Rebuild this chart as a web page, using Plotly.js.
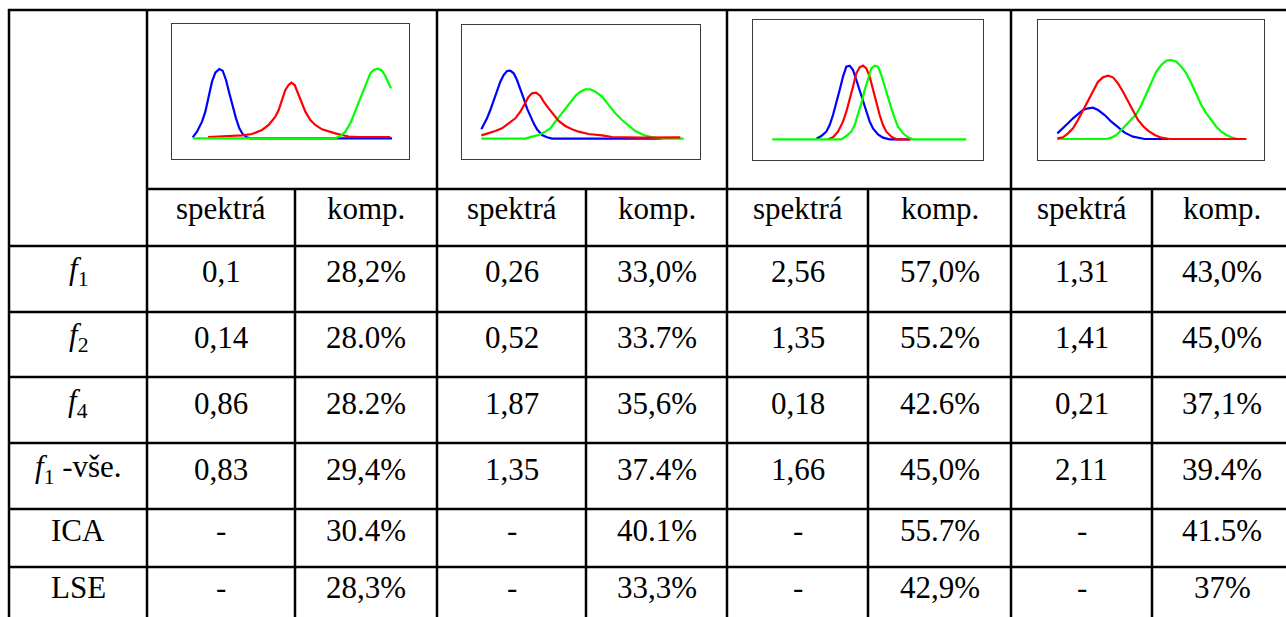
<!DOCTYPE html>
<html>
<head>
<meta charset="utf-8">
<script src="https://cdn.plot.ly/plotly-3.0.1.min.js"></script>
<style>
html,body{margin:0;padding:0;background:#fff;}
#chart{width:1286px;height:617px;}
</style>
</head>
<body>
<div id="chart"></div>
<script>
// ---------- table text ----------
const rowLabels = ['<i>f</i><sub>1</sub>', '<i>f</i><sub>2</sub>', '<i>f</i><sub>4</sub>', '<i>f</i><sub>1</sub> -vše.', 'ICA', 'LSE'];
const subHeaders = ['spektrá', 'komp.'];
const set1Spektra = ['0,1', '0,14', '0,86', '0,83', '-', '-'];
const set1Komp = ['28,2%', '28.0%', '28.2%', '29,4%', '30.4%', '28,3%'];
const set2Spektra = ['0,26', '0,52', '1,87', '1,35', '-', '-'];
const set2Komp = ['33,0%', '33.7%', '35,6%', '37.4%', '40.1%', '33,3%'];
const set3Spektra = ['2,56', '1,35', '0,18', '1,66', '-', '-'];
const set3Komp = ['57,0%', '55.2%', '42.6%', '45,0%', '55.7%', '42,9%'];
const set4Spektra = ['1,31', '1,41', '0,21', '2,11', '-', '-'];
const set4Komp = ['43,0%', '45,0%', '37,1%', '39.4%', '41.5%', '37%'];

// ---------- mini spectra (channel, intensity) ----------
const s1BlueX = [62,75,90,100,110,120,130,142,152,162,172,182,192,202,212,225,235,660];
const s1BlueY = [3,20,50,80,125,170,197,208,203,175,135,95,60,30,13,3,0,0];
const s1RedX = [108,210,240,270,290,310,320,330,340,350,358,368,378,390,400,415,430,450,470,490,510,530,560,655];
const s1RedY = [4,9,13,25,40,65,85,115,145,160,167,160,135,100,80,55,40,27,20,15,10,5,4,4];
const s1GreenX = [62,490,505,520,535,545,555,565,575,585,595,605,618,630,640,650,657];
const s1GreenY = [0,0,7,20,45,70,95,120,150,175,195,205,209,203,187,165,150];

const s2BlueX = [58,65,75,85,95,105,115,125,135,145,155,165,175,185,195,205,215,225,240,255,270,600];
const s2BlueY = [28,41,61,86,116,146,171,191,203,204,196,176,151,121,91,66,46,28,11,4,0,0];
const s2RedX = [58,80,100,120,140,160,175,190,200,210,222,235,245,260,275,290,310,330,350,380,420,450,540,655];
const s2RedY = [10,16,23,31,46,61,81,106,126,136,138,128,111,91,71,53,38,28,21,14,10,5,3,4];
const s2GreenX = [58,190,210,230,250,265,280,295,310,325,340,355,370,385,400,420,440,460,480,500,520,545,570,600,665];
const s2GreenY = [0,0,6,11,21,31,51,71,91,111,128,141,148,148,141,126,101,76,56,38,23,11,4,0,0];

const s3BlueX = [190,205,220,230,240,250,260,270,280,290,300,310,320,330,340,350,360,375,390,410,470];
const s3BlueY = [2,10,23,43,73,108,148,188,218,221,208,178,148,118,83,53,33,15,5,0,0];
const s3RedX = [225,240,255,270,280,290,300,310,320,330,340,350,360,370,380,390,400,415,430,475];
const s3RedY = [0,6,23,53,83,118,158,198,216,221,213,188,148,108,73,43,23,8,0,0];
const s3GreenX = [58,265,280,295,305,315,325,335,345,355,365,375,385,395,405,415,425,435,450,465,480,640];
const s3GreenY = [0,0,10,23,43,73,108,148,183,213,221,218,193,158,128,93,63,38,18,6,0,0];

const s4BlueX = [58,75,90,105,120,135,150,165,180,200,220,240,260,285,320,390];
const s4BlueY = [17,32,47,62,75,87,92,94,87,72,52,35,19,7,0,0];
const s4RedX = [58,75,90,105,120,135,150,165,180,195,210,225,240,255,270,285,300,315,330,350,370,395,625];
const s4RedY = [2,5,17,32,57,87,117,147,172,185,190,185,167,142,112,82,57,39,25,12,4,0,0];
const s4GreenX = [58,205,220,235,250,265,280,295,310,325,340,355,370,385,400,415,430,445,460,475,490,505,520,535,550,565,580,600,625];
const s4GreenY = [0,0,4,12,27,42,57,75,102,137,172,202,222,235,237,232,217,197,167,132,102,77,57,37,22,12,5,0,0];

// ---------- layout geometry (pixels) ----------
const W = 1286, H = 617;
const colX = [9, 147, 295, 437, 586, 727, 868, 1011, 1152, 1292];
const rowY = [10, 189, 246, 312, 377, 443, 509, 567, 640];
const textRowY = [271, 337, 403, 469, 530, 587];
const headerTextY = [208];
const boxes = [
  {x0:172, x1:409, y0:24, y1:159, xr:[0,711], yr:[-62,343]},
  {x0:462, x1:700, y0:25, y1:159, xr:[0,714], yr:[-61,341]},
  {x0:753, x1:983, y0:20, y1:160, xr:[0,690], yr:[-62,358]},
  {x0:1038, x1:1264, y0:20, y1:160, xr:[0,678], yr:[-63,357]}
];

const BLUE = '#0000ff', RED = '#ff0000', GREEN = '#00ff00';
const spectra = [
  [[s1BlueX,s1BlueY,BLUE],[s1RedX,s1RedY,RED],[s1GreenX,s1GreenY,GREEN]],
  [[s2BlueX,s2BlueY,BLUE],[s2GreenX,s2GreenY,GREEN],[s2RedX,s2RedY,RED]],
  [[s3BlueX,s3BlueY,BLUE],[s3RedX,s3RedY,RED],[s3GreenX,s3GreenY,GREEN]],
  [[s4BlueX,s4BlueY,BLUE],[s4GreenX,s4GreenY,GREEN],[s4RedX,s4RedY,RED]]
];

const traces = [];
const layout = {
  width: W, height: H,
  margin: {l:0, r:0, t:0, b:0},
  paper_bgcolor: '#ffffff', plot_bgcolor: 'rgba(0,0,0,0)',
  showlegend: false,
  font: {family: 'Liberation Serif', size: 31, color: '#000'},
  xaxis: {range:[0, W], domain:[0,1], visible:false, fixedrange:true},
  yaxis: {range:[H, 0], domain:[0,1], visible:false, fixedrange:true},
  shapes: [], annotations: []
};

traces.push({x:[0, W], y:[0, H], mode:'markers', marker:{opacity:0}, hoverinfo:'skip', xaxis:'x', yaxis:'y'});

boxes.forEach((b, i) => {
  const n = i + 2;
  layout['xaxis' + n] = {
    domain: [b.x0 / W, b.x1 / W], anchor: 'y' + n,
    range: b.xr, showgrid:false, zeroline:false, showticklabels:false, ticks:'',
    showline:true, mirror:true, linecolor:'#3a3a3a', linewidth:1.3, fixedrange:true
  };
  layout['yaxis' + n] = {
    domain: [1 - b.y1 / H, 1 - b.y0 / H], anchor: 'x' + n,
    range: b.yr, showgrid:false, zeroline:false, showticklabels:false, ticks:'',
    showline:true, mirror:true, linecolor:'#3a3a3a', linewidth:1.3, fixedrange:true
  };
  spectra[i].forEach(s => {
    traces.push({x:s[0], y:s[1], mode:'lines', line:{color:s[2], width:2.2, shape:'linear'},
      hoverinfo:'skip', xaxis:'x' + n, yaxis:'y' + n});
  });
});

// grid lines
const LW = 2.5;
function hline(y, x0, x1){ layout.shapes.push({type:'line', xref:'x', yref:'y', x0:x0, x1:x1, y0:y, y1:y, line:{color:'#000', width:LW}}); }
function vline(x, y0, y1){ layout.shapes.push({type:'line', xref:'x', yref:'y', x0:x, x1:x, y0:y0, y1:y1, line:{color:'#000', width:LW}}); }
hline(rowY[0], colX[0] - 1, W + 5);
hline(rowY[1], colX[1], W + 5);
for (let r = 2; r <= 7; r++) hline(rowY[r], colX[0] - 1, W + 5);
[0, 1, 3, 5, 7].forEach(c => vline(colX[c], rowY[0] - 1, H + 5));
[2, 4, 6, 8].forEach(c => vline(colX[c], rowY[1], H + 5));

// text
function txt(x, y, t){
  layout.annotations.push({xref:'x', yref:'y', x:x, y:y, text:t, showarrow:false,
    xanchor:'center', yanchor:'middle', font:{family:'Liberation Serif', size:31, color:'#000'}});
}
const dataCols = [set1Spektra, set1Komp, set2Spektra, set2Komp, set3Spektra, set3Komp, set4Spektra, set4Komp];
for (let c = 0; c < 8; c++) {
  const cx = (colX[c + 1] + colX[c + 2]) / 2;
  txt(cx, headerTextY[0], subHeaders[c % 2]);
  dataCols[c].forEach((v, r) => txt(cx, textRowY[r], v));
}
rowLabels.forEach((v, r) => txt((colX[0] + colX[1]) / 2, textRowY[r], v));

Plotly.newPlot('chart', traces, layout, {displayModeBar:false});
</script>
</body>
</html>
